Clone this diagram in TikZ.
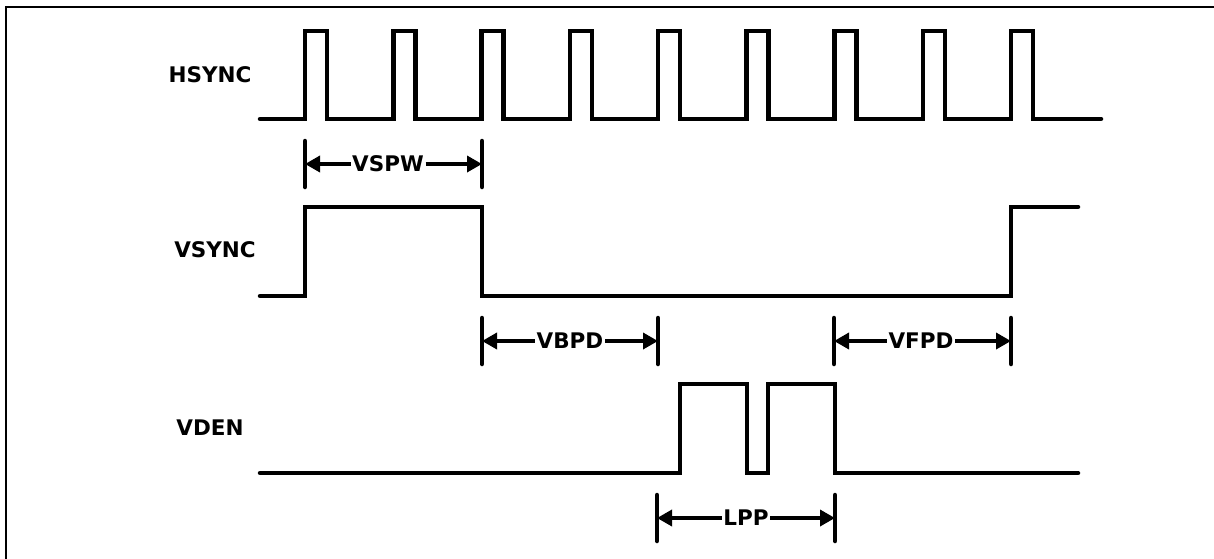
\documentclass[tikz,border=0pt]{standalone}
\usepackage{fontspec}
\usepackage{tikz}
\usetikzlibrary{arrows.meta}
\newfontfamily\sigfont{DejaVu Sans}

\tikzset{
  senal/.style={line width=4.5pt, line join=miter, line cap=round},
  marca/.style={line width=4.5pt, line cap=round},
  cota/.style={line width=3.5pt, -{Triangle[length=15pt,width=16pt]}},
  nombre/.style={font=\sigfont\bfseries\fontsize{21.5}{25}\selectfont, inner sep=0pt},
  etiq/.style={font=\sigfont\bfseries\fontsize{21.5}{25}\selectfont, inner sep=1.5pt}
}

\begin{document}
\begin{tikzpicture}[x=1pt,y=-1pt]
	\useasboundingbox (0,0) rectangle (1214,558);
	% Marco
	\draw[line width=2pt] (6,570) -- (6,7) -- (1225,7);

	% Nombres de las senales
	\node[nombre] (hsync) at (210,75) {HSYNC};
	\node[nombre] (vsync) at (215,250) {VSYNC};
	\node[nombre] (vden) at (210,428) {VDEN};

	% HSYNC
	\draw[senal] (260,119)
		\foreach \k in {0,...,8}
			{
				-- ({305+88.25*\k},119) -- ({305+88.25*\k},31)
				-- ({327+88.25*\k},31) -- ({327+88.25*\k},119)
			}
		-- (1101,119);

	% VSYNC
	\draw[senal] (260,296) -- (305,296) -- (305,207) -- (482,207)
		-- (482,296) -- (1011,296) -- (1011,207) -- (1078,207);

	% VDEN
	\draw[senal] (260,473) -- (680,473) -- (680,384) -- (747,384)
		-- (747,473) -- (768,473) -- (768,384) -- (835,384)
		-- (835,473) -- (1078,473);

	% Cotas
	\foreach \xa/\xb/\xc/\yy/\txt/\nm in
		{305/482/388/164/VSPW/vspw,
		 482/658/570/341/VBPD/vbpd,
		 834/1011/921/341/VFPD/vfpd,
		 657/835/746/518/LPP/lpp}
		{
			\coordinate (\nm-l) at (\xa,\yy);
			\coordinate (\nm-r) at (\xb,\yy);
			\node[etiq] (\nm) at (\xc,\yy) {\txt};
			\draw[marca] (\xa,\yy-23) -- (\xa,\yy+23);
			\draw[marca] (\xb,\yy-23) -- (\xb,\yy+23);
			\draw[cota] (\nm.west) -- (\nm-l);
			\draw[cota] (\nm.east) -- (\nm-r);
		}

\end{tikzpicture}
\end{document}
